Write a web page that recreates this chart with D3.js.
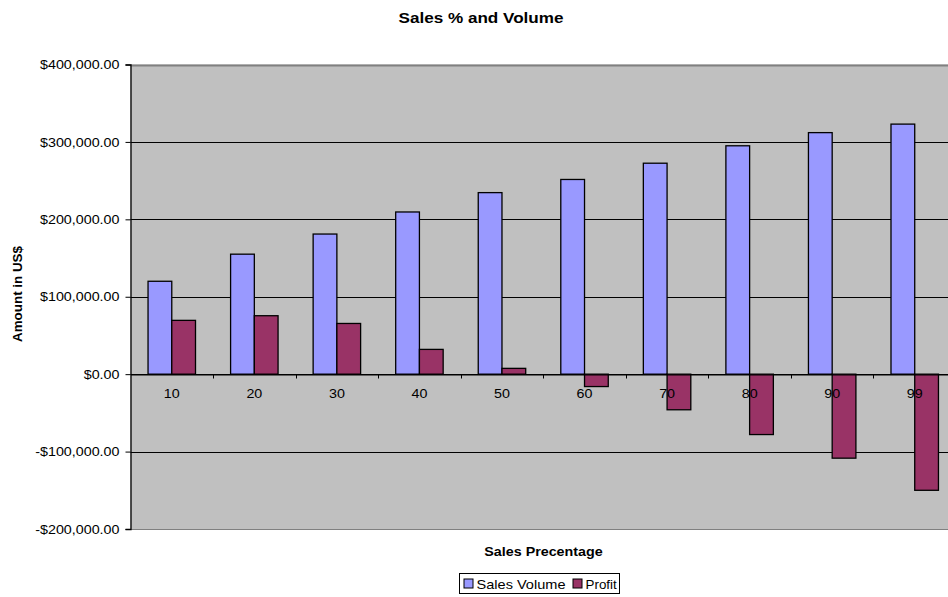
<!DOCTYPE html>
<html>
<head>
<meta charset="utf-8">
<script src="https://cdn.jsdelivr.net/npm/d3@7"></script>
<style>
  html, body { margin: 0; padding: 0; background: #fff; }
  svg { display: block; font-family: "Liberation Sans", Arial, sans-serif; }
</style>
</head>
<body>
<svg id="chart" width="948" height="597"></svg>
<script>
// Sales percentage categories and the two series drawn per category
const categories = ["10", "20", "30", "40", "50", "60", "70", "80", "90", "99"];
const salesVolume = [120000, 155000, 181000, 209500, 234500, 251500, 272500, 295000, 312000, 323000];
const profit = [69500, 75500, 65500, 32000, 7500, -16000, -46000, -78000, -108500, -150000];
const seriesNames = ["Sales Volume", "Profit"];
const seriesColors = ["#9999FF", "#993366"];
const yTicks = [-200000, -100000, 0, 100000, 200000, 300000, 400000];

const svg = d3.select("#chart");
const plot = { left: 130.5, right: 956, top: 64.5, bottom: 529 };

const x = d3.scaleBand().domain(categories).range([plot.left, plot.right]).paddingInner(0).paddingOuter(0);
const y = d3.scaleLinear().domain([-200000, 400000]).range([plot.bottom, plot.top]);

const groupWidth = x.bandwidth() * 0.575;
const xs = d3.scaleBand().domain(seriesNames).range([0, groupWidth]);

// Text in this chart is drawn slightly wide; stretch horizontally around its anchor
function stretched(parent, tx, ty, sx, str) {
  return parent.append("text")
    .attr("transform", `translate(${tx},${ty}) scale(${sx},1)`)
    .text(str);
}

// Plot background
svg.append("rect")
  .attr("x", plot.left).attr("y", plot.top)
  .attr("width", plot.right - plot.left).attr("height", plot.bottom - plot.top)
  .attr("fill", "#C0C0C0");

// Horizontal gridlines
svg.append("g").selectAll("line")
  .data(yTicks.filter(d => d !== 400000 && d !== -200000))
  .join("line")
  .attr("x1", plot.left).attr("x2", plot.right)
  .attr("y1", d => Math.round(y(d)) + 0.5).attr("y2", d => Math.round(y(d)) + 0.5)
  .attr("stroke", "#000").attr("stroke-width", 1);

// Top and bottom plot border
svg.append("line").attr("x1", plot.left).attr("x2", plot.right)
  .attr("y1", Math.round(plot.top) + 0.5).attr("y2", Math.round(plot.top) + 0.5)
  .attr("stroke", "#808080").attr("stroke-width", 2);
svg.append("line").attr("x1", plot.left).attr("x2", plot.right)
  .attr("y1", Math.round(plot.bottom) + 0.5).attr("y2", Math.round(plot.bottom) + 0.5)
  .attr("stroke", "#808080").attr("stroke-width", 1);

// Bars
const rows = categories.map((c, i) => ({ cat: c, values: [salesVolume[i], profit[i]] }));
const groups = svg.append("g").selectAll("g")
  .data(rows).join("g")
  .attr("transform", d => `translate(${x(d.cat) + (x.bandwidth() - groupWidth) / 2},0)`);
groups.selectAll("rect")
  .data(d => d.values.map((v, j) => ({ name: seriesNames[j], v, j })))
  .join("rect")
  .attr("x", d => xs(d.name))
  .attr("width", xs.bandwidth())
  .attr("y", d => y(Math.max(0, d.v)))
  .attr("height", d => Math.abs(y(d.v) - y(0)))
  .attr("fill", d => seriesColors[d.j])
  .attr("stroke", "#000").attr("stroke-width", 1.3);

// Y axis
const yAxis = d3.axisLeft(y).tickValues(yTicks).tickSize(5).tickPadding(6)
  .tickFormat(d => (d < 0 ? "-$" : "$") + d3.format(",.2f")(Math.abs(d)));
const gy = svg.append("g").attr("transform", `translate(${plot.left},0)`).call(yAxis);
gy.select(".domain").attr("stroke", "#000").attr("stroke-width", 1.3);
gy.selectAll(".tick line").attr("stroke", "#000");
gy.selectAll(".tick text")
  .attr("x", 0)
  .attr("transform", "translate(-11,0) scale(1.1,1)")
  .attr("font-size", 13).attr("fill", "#000")
  .attr("font-family", "'Liberation Sans', Arial, sans-serif");

// X axis along the zero line
const xAxis = d3.axisBottom(x).tickSize(0).tickPadding(14);
const gx = svg.append("g").attr("transform", `translate(0,${Math.round(y(0)) + 0.5})`).call(xAxis);
gx.select(".domain").attr("stroke", "#000").attr("stroke-width", 1);
gx.selectAll(".tick text")
  .attr("y", 0)
  .attr("transform", "translate(0,14) scale(1.1,1)")
  .attr("font-size", 13).attr("fill", "#000")
  .attr("font-family", "'Liberation Sans', Arial, sans-serif");
// Category boundary tick marks
gx.append("g").selectAll("line")
  .data(categories.slice(1))
  .join("line")
  .attr("x1", d => Math.round(x(d)) + 0.5).attr("x2", d => Math.round(x(d)) + 0.5)
  .attr("y1", 0).attr("y2", 4)
  .attr("stroke", "#000");

// Titles
stretched(svg, 481, 22.5, 1.18, "Sales % and Volume")
  .attr("text-anchor", "middle").attr("font-size", 14.5).attr("font-weight", "bold");
stretched(svg, 543.5, 556, 1.1, "Sales Precentage")
  .attr("text-anchor", "middle").attr("font-size", 13).attr("font-weight", "bold");
svg.append("text").attr("transform", "translate(22,294) rotate(-90) scale(1.03,1)")
  .attr("text-anchor", "middle")
  .attr("font-size", 13).attr("font-weight", "bold").text("Amount in US$");

// Legend
const legend = svg.append("g").attr("transform", "translate(459.5,573.5)");
legend.append("rect").attr("width", 160).attr("height", 20)
  .attr("fill", "#fff").attr("stroke", "#000").attr("stroke-width", 1);
const itemX = [4.5, 113.5];
const itemStretch = [1.12, 1.03];
seriesNames.forEach((n, j) => {
  const it = legend.append("g").attr("transform", `translate(${itemX[j]},0)`);
  it.append("rect").attr("x", 0).attr("y", 5.5).attr("width", 9).attr("height", 9)
    .attr("fill", seriesColors[j]).attr("stroke", "#000").attr("stroke-width", 1);
  stretched(it, 12.5, 15, itemStretch[j], n).attr("font-size", 13);
});
</script>
</body>
</html>
